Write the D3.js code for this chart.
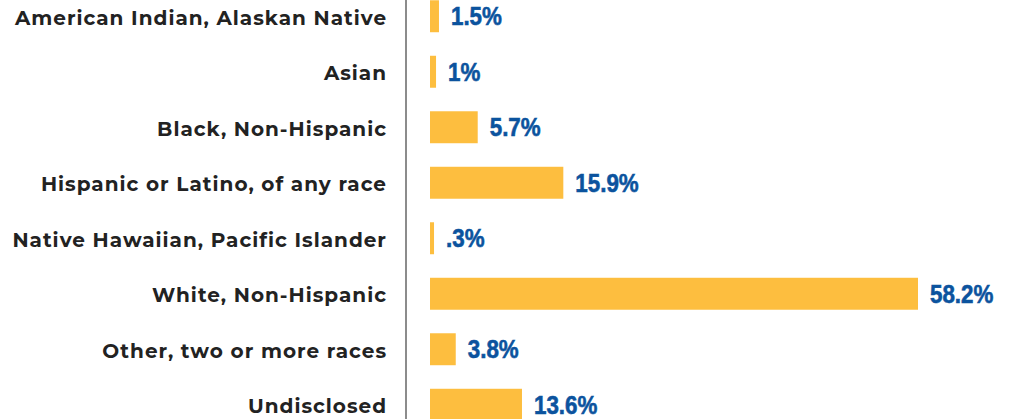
<!DOCTYPE html>
<html><head><meta charset="utf-8">
<script src="https://cdn.jsdelivr.net/npm/d3@7"></script>
<style>body{margin:0;background:#fff}svg{display:block}</style>
</head><body>
<svg id="c" width="1019" height="419"></svg>
<script>
const categories = ["American Indian, Alaskan Native","Asian","Black, Non-Hispanic","Hispanic or Latino, of any race","Native Hawaiian, Pacific Islander","White, Non-Hispanic","Other, two or more races","Undisclosed"];
// bar lengths as drawn in the picture
const barValues = [1.07, 0.72, 5.69, 15.9, 0.48, 58.2, 3.07, 10.97];
// value labels as printed
const valueLabels = ["1.5%","1%","5.7%","15.9%",".3%","58.2%","3.8%","13.6%"];

const svg = d3.select("#c");
const y = d3.scaleBand().domain(categories).range([-11.5, 432.5]).paddingInner(0.424).paddingOuter(0.212);
const x = d3.scaleLinear().domain([0, 58.2]).range([430, 918]);

svg.append("line").attr("x1",406).attr("x2",406).attr("y1",0).attr("y2",419)
  .attr("stroke","#666").attr("stroke-width",1.5);

svg.selectAll("rect.bar").data(barValues).join("rect").attr("class","bar")
  .attr("x", x(0)).attr("y",(d,i)=>y(categories[i]))
  .attr("width", d=>x(d)-x(0)).attr("height", y.bandwidth())
  .attr("fill","#FDBE3F");

svg.selectAll("text.cat").data(categories).join("text").attr("class","cat")
  .attr("x",387).attr("y",d=>y(d)+y.bandwidth()/2).attr("dy",1.5)
  .attr("text-anchor","end").attr("dominant-baseline","central")
  .attr("font-family","Montserrat, 'Open Sans', sans-serif").attr("font-weight",700)
  .attr("font-size",20).attr("letter-spacing","1px").attr("fill","#222").text(d=>d);

svg.selectAll("text.val").data(barValues).join("text").attr("class","val")
  .attr("transform",(d,i)=>`translate(${x(d)+12},${y(categories[i])+y.bandwidth()/2}) scale(0.86,1)`)
  .attr("dominant-baseline","central")
  .attr("font-family","'Liberation Sans Narrow', sans-serif").attr("font-weight",700)
  .attr("font-size",26).attr("fill","#0B539E").attr("stroke","#0B539E").attr("stroke-width",0.6)
  .text((d,i)=>valueLabels[i]);
</script>
</body></html>
